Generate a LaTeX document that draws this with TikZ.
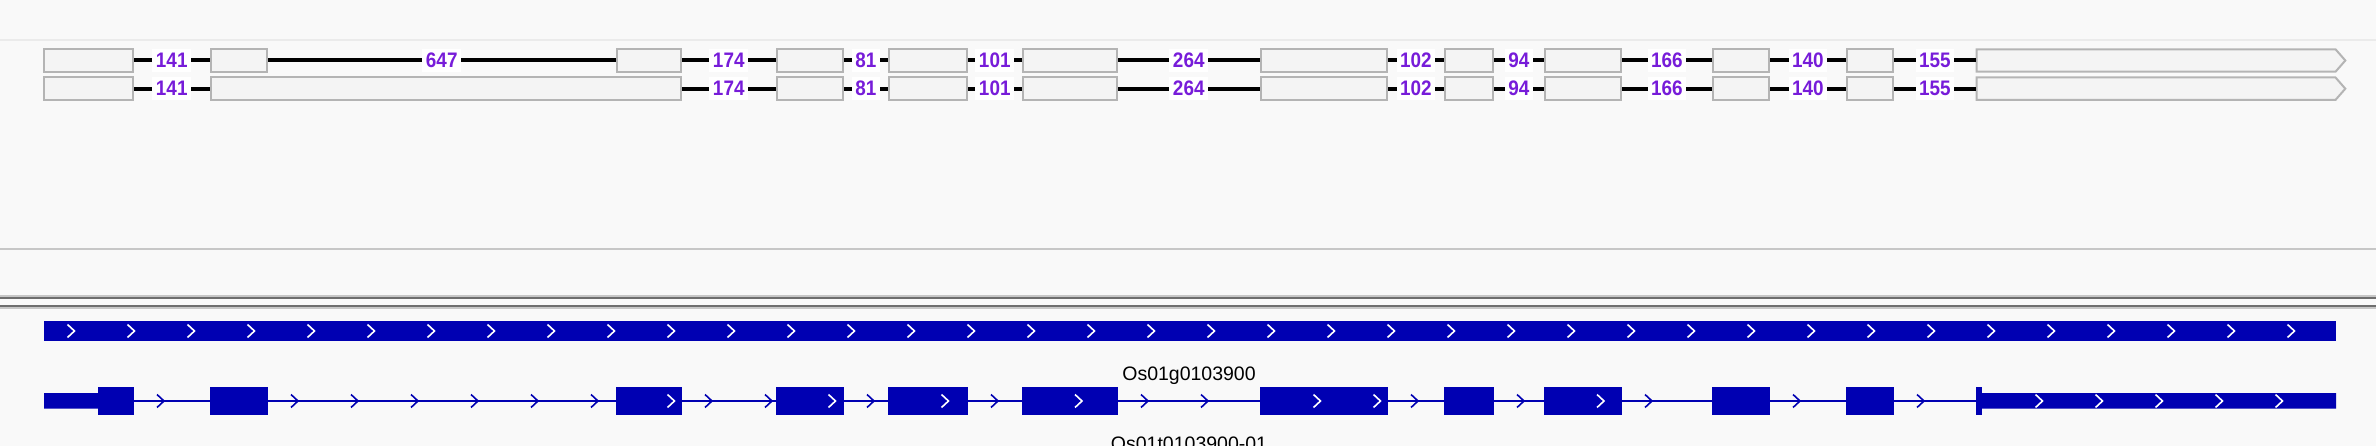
\documentclass[tikz,border=0pt]{standalone}
\usepackage{fontspec}
\setmainfont{Liberation Sans}
\newfontfamily\lenfont[FakeStretch=0.9]{Liberation Sans}
\definecolor{igvblue}{RGB}{0,0,178}
\definecolor{lenpurple}{RGB}{119,28,217}
\definecolor{panelbg}{RGB}{249,249,249}
\definecolor{boxfill}{RGB}{244,244,244}
\definecolor{boxline}{RGB}{180,180,180}
\tikzset{exonbox/.style={draw=boxline,fill=boxfill,line width=2pt,minimum height=22.5pt,inner sep=0pt},
  intronline/.style={line width=4pt},
  lenlbl/.style={fill=white,text=lenpurple,font=\lenfont\fontsize{21}{24}\selectfont\bfseries,inner xsep=3.5pt,inner ysep=0pt,minimum height=23pt},
  chevline/.style={line width=1.6pt},
  genetxt/.style={font=\fontsize{19.5}{23}\selectfont,inner sep=0pt}}

\begin{document}
\begin{tikzpicture}[x=1pt,y=-1pt,line join=miter]
\useasboundingbox (0,0) rectangle (2376,446);
\fill[panelbg] (0,0) rectangle (2376,446);
% --- panel dividers
\draw[line width=2pt,black!8] (0,40) -- (2376,40);
\draw[line width=2pt,black!22] (0,249) -- (2376,249);
\draw[line width=2pt,black!22] (0,296) -- (2376,296) (0,308) -- (2376,308);
\draw[line width=2pt,black!57] (0,298) -- (2376,298) (0,306) -- (2376,306);
% --- splice graph, row 1: all exons apart
\foreach \s/\e [count=\i] in {43/134,209.5/268,615.5/682,775.5/844,887.5/968,1021.5/1118,1259.5/1388,1443.5/1494,1543.5/1622,1711.5/1770,1845.5/1894}
  \node[exonbox,minimum width={(\e-\s-2)*1pt}] (a\i) at ({(\s+\e)/2},60.5) {};
\draw[boxline,fill=boxfill,line width=2pt] (1976.5,49.3) -- (2335.5,49.3) -- (2345.3,60.5) -- (2335.5,71.7) -- (1976.5,71.7) -- cycle;
\coordinate (a12) at (1975.5,60.5);
\foreach \i/\j/\len in {1/2/141,2/3/647,3/4/174,4/5/81,5/6/101,6/7/264,7/8/102,8/9/94,9/10/166,10/11/140,11/12/155}
  \draw[intronline] (a\i) -- node[lenlbl] {\len} (a\j);
% --- row 2: exons 2 and 3 joined
\foreach \s/\e [count=\i] in {43/134,209.5/682,775.5/844,887.5/968,1021.5/1118,1259.5/1388,1443.5/1494,1543.5/1622,1711.5/1770,1845.5/1894}
  \node[exonbox,minimum width={(\e-\s-2)*1pt}] (b\i) at ({(\s+\e)/2},88.7) {};
\draw[boxline,fill=boxfill,line width=2pt] (1976.5,77.5) -- (2335.5,77.5) -- (2345.3,88.7) -- (2335.5,99.9) -- (1976.5,99.9) -- cycle;
\coordinate (b11) at (1975.5,88.7);
\foreach \i/\j/\len in {1/2/141,2/3/174,3/4/81,4/5/101,5/6/264,6/7/102,7/8/94,8/9/166,9/10/140,10/11/155}
  \draw[intronline] (b\i) -- node[lenlbl] {\len} (b\j);
% --- gene track
\fill[igvblue] (44,321) rectangle (2336,340.7);
\foreach \k in {0,...,37} \draw[white,chevline] ({71+60*\k-3.5},324.5) -- ++(7,6.5) -- ++(-7,6.5);
\node[genetxt,anchor=base] (gname) at (1189,380.7) {Os01g0103900};
% --- transcript
\draw[igvblue,line width=2pt] (44,401) -- (2336,401);
\fill[igvblue] (44,393) rectangle (98,408.7) (1982,393) rectangle (2336,408.7);
\foreach \s/\e in {98/134,209.5/268,615.5/682,775.5/844,887.5/968,1021.5/1118,1259.5/1388,1443.5/1494,1543.5/1622,1711.5/1770,1845.5/1894,1976/1982}
  \fill[igvblue] (\s,386.7) rectangle (\e,414.7);
\foreach \x in {160.5,294.5,354.5,414.5,474.5,534.5,594.5,708.5,768.5,870.5,994.5,1144.5,1204.5,1414.5,1520.5,1648.5,1796.5,1920.5}
  \draw[igvblue,chevline] (\x-3.5,394.5) -- ++(7,6.5) -- ++(-7,6.5);
\foreach \x in {671,832,945,1078.5,1317,1377,1600.5,2039,2099,2159,2219,2279}
  \draw[white,chevline] (\x-3.5,394.5) -- ++(7,6.5) -- ++(-7,6.5);
\node[genetxt,anchor=base] (tname) at (1189,450) {Os01t0103900-01};
\end{tikzpicture}
\end{document}
